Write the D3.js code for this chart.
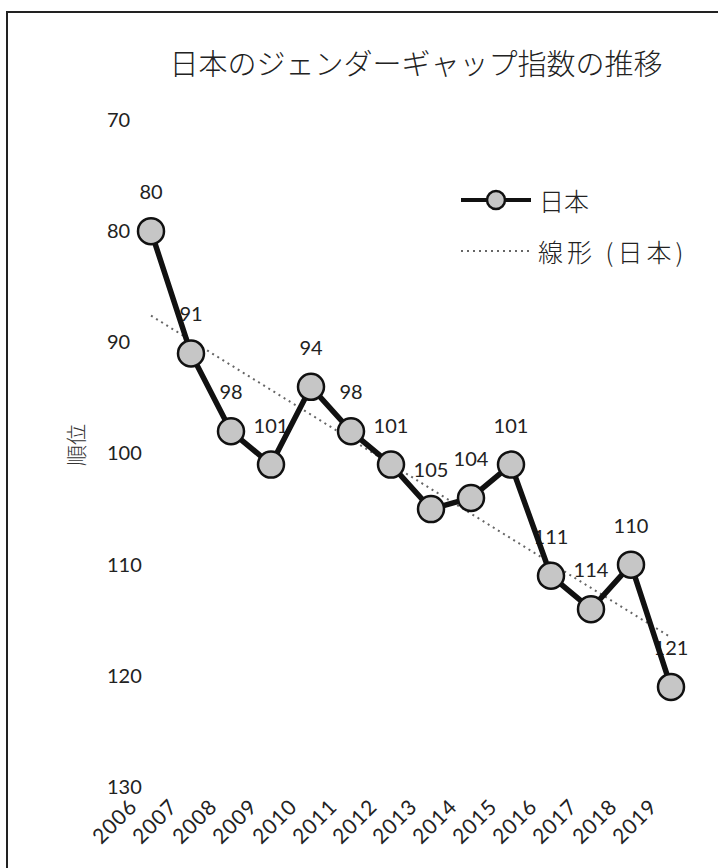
<!DOCTYPE html>
<html><head><meta charset="utf-8">
<script src="https://cdn.jsdelivr.net/npm/d3@7"></script>
<style>
html,body{margin:0;padding:0;background:#fff;}
svg{display:block;}
</style>
</head><body>
<svg id="c" width="718" height="868"></svg>
<script>
const years = ["2006","2007","2008","2009","2010","2011","2012","2013","2014","2015","2016","2017","2018","2019"];
const ranks = [80,91,98,101,94,98,101,105,104,101,111,114,110,121];
const yTicks = [70,80,90,100,110,120,130];
const title = "日本のジェンダーギャップ指数の推移";
const yTitle = "順位";
const legendLabels = ["日本","線形 (日本)"];

const svg = d3.select("#c");
const numFont = "Lato, 'Open Sans', sans-serif";
const jpFont = "'Noto Sans CJK JP', sans-serif";

// frame
svg.append("path").attr("d","M7,868 L7,12 L718,12").attr("fill","none").attr("stroke","#222").attr("stroke-width",2);

const x = d3.scalePoint().domain(years).range([151,671]);
const y = d3.scaleLinear().domain([70,130]).range([120,787]);

// title
svg.append("text").attr("x",416).attr("y",75).attr("text-anchor","middle")
  .attr("font-family",jpFont).attr("font-weight",300).attr("font-size",29).attr("fill","#222").text(title);

// y axis (labels left-aligned as in the reference)
const yAxis = d3.axisLeft(y).tickValues(yTicks).tickSize(0).tickPadding(0);
const gy = svg.append("g").attr("transform","translate(107,0)").call(yAxis);
gy.select(".domain").remove();
gy.selectAll("text").attr("text-anchor","start").attr("x",0)
  .attr("font-family",numFont).attr("font-size",20).attr("fill","#222");

// y title
svg.append("text").attr("transform","translate(75,445) rotate(-90)").attr("text-anchor","middle")
  .attr("dominant-baseline","central").attr("font-family",jpFont).attr("font-weight",300).attr("font-size",21).attr("fill","#333").text(yTitle);

// x axis
const xAxis = d3.axisBottom(x).tickSize(0).tickPadding(0);
const gx = svg.append("g").attr("transform","translate(0,808)").call(xAxis);
gx.select(".domain").remove();
gx.selectAll("text").attr("font-family",numFont).attr("font-size",21).attr("letter-spacing",1).attr("fill","#222")
  .attr("text-anchor","end").attr("dy",0).attr("y",0)
  .attr("transform","translate(-13,0) rotate(-45)");

// data labels (beneath line)
svg.append("g").selectAll("text").data(ranks).join("text")
  .attr("x",(d,i)=>x(years[i])).attr("y",d=>y(d)-32)
  .attr("text-anchor","middle").attr("font-family",numFont).attr("font-size",20).attr("fill","#222")
  .text(d=>d);

// linear trendline (least squares, like the spreadsheet's)
const n = ranks.length;
const idx = d3.range(n);
const mx = d3.mean(idx), my = d3.mean(ranks);
const slope = d3.sum(idx,i=>(i-mx)*(ranks[i]-my))/d3.sum(idx,i=>(i-mx)*(i-mx));
const icpt = my - slope*mx;
svg.append("line")
  .attr("x1",x(years[0])).attr("y1",y(icpt))
  .attr("x2",x(years[n-1])).attr("y2",y(icpt+slope*(n-1)))
  .attr("stroke","#666").attr("stroke-width",2).attr("stroke-dasharray","2,4");

// series line
const line = d3.line().x((d,i)=>x(years[i])).y(d=>y(d));
svg.append("path").datum(ranks).attr("d",line).attr("fill","none")
  .attr("stroke","#111").attr("stroke-width",5.5).attr("stroke-linejoin","round");

// markers
svg.append("g").selectAll("circle").data(ranks).join("circle")
  .attr("cx",(d,i)=>x(years[i])).attr("cy",d=>y(d)).attr("r",13)
  .attr("fill","#c6c6c6").attr("stroke","#111").attr("stroke-width",2.5);

// legend
const lg = svg.append("g");
lg.append("line").attr("x1",461).attr("x2",531).attr("y1",200).attr("y2",200).attr("stroke","#111").attr("stroke-width",4);
lg.append("circle").attr("cx",496).attr("cy",200).attr("r",9).attr("fill","#c6c6c6").attr("stroke","#111").attr("stroke-width",2.5);
lg.append("text").attr("x",539).attr("y",200).attr("dominant-baseline","central").attr("font-family",jpFont).attr("font-weight",300).attr("font-size",25).attr("fill","#222").text(legendLabels[0]);
lg.append("line").attr("x1",461).attr("x2",530).attr("y1",251).attr("y2",251).attr("stroke","#666").attr("stroke-width",2).attr("stroke-dasharray","2,4");
lg.append("text").attr("x",538).attr("y",251).attr("dominant-baseline","central").attr("font-family",jpFont).attr("font-weight",300).attr("font-size",25).attr("letter-spacing",4).attr("fill","#222").text(legendLabels[1]);
</script>
</body></html>
